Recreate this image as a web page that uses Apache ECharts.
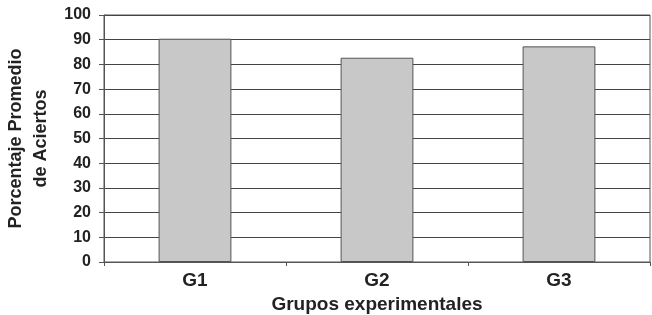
<!DOCTYPE html>
<html><head><meta charset="utf-8">
<script src="https://cdn.jsdelivr.net/npm/echarts@6/dist/echarts.min.js"></script>
<style>html,body{margin:0;padding:0;background:#fff}#c{width:652px;height:315px}</style>
</head><body><div id="c"></div>
<script>
var categories = ['G1', 'G2', 'G3'];
var values = [90.4, 82.7, 87.3];
var yTicks = [0, 10, 20, 30, 40, 50, 60, 70, 80, 90, 100];

var chart = echarts.init(document.getElementById('c'));
var font = 'Liberation Sans, Arial, sans-serif';
chart.setOption({
  animation: false,
  grid: { left: 104, right: 2, top: 15, bottom: 53, show: true, borderColor: '#555', borderWidth: 1,
          containLabel: false, outerBoundsMode: 'none' },
  xAxis: {
    type: 'category', data: categories,
    axisLine: { lineStyle: { color: '#555', width: 1 } },
    axisTick: { show: true, length: 4, inside: false, lineStyle: { color: '#555' } },
    axisLabel: { color: '#222', fontFamily: font, fontWeight: 'bold', fontSize: 19, margin: 9 },
    name: 'Grupos experimentales', nameLocation: 'middle', nameGap: 28,
    nameTextStyle: { color: '#222', fontFamily: font, fontWeight: 'bold', fontSize: 19 }
  },
  yAxis: {
    type: 'value', min: yTicks[0], max: yTicks[yTicks.length - 1], interval: 10,
    axisLine: { show: true, lineStyle: { color: '#555', width: 1 } },
    axisTick: { show: true, length: 5, lineStyle: { color: '#555' } },
    splitLine: { show: true, lineStyle: { color: '#444', width: 1 } },
    axisLabel: { color: '#222', fontFamily: font, fontWeight: 'bold', fontSize: 16, margin: 13 },
    name: 'Porcentaje Promedio\nde Aciertos', nameLocation: 'middle', nameGap: 46, nameRotate: 90,
    nameTextStyle: { color: '#222', fontFamily: font, fontWeight: 'bold', fontSize: 18, lineHeight: 25 }
  },
  series: [{
    type: 'bar', data: values, barCategoryGap: '60%',
    itemStyle: { color: '#c8c8c8', borderColor: '#555', borderWidth: 1 }
  }]
});
</script></body></html>
